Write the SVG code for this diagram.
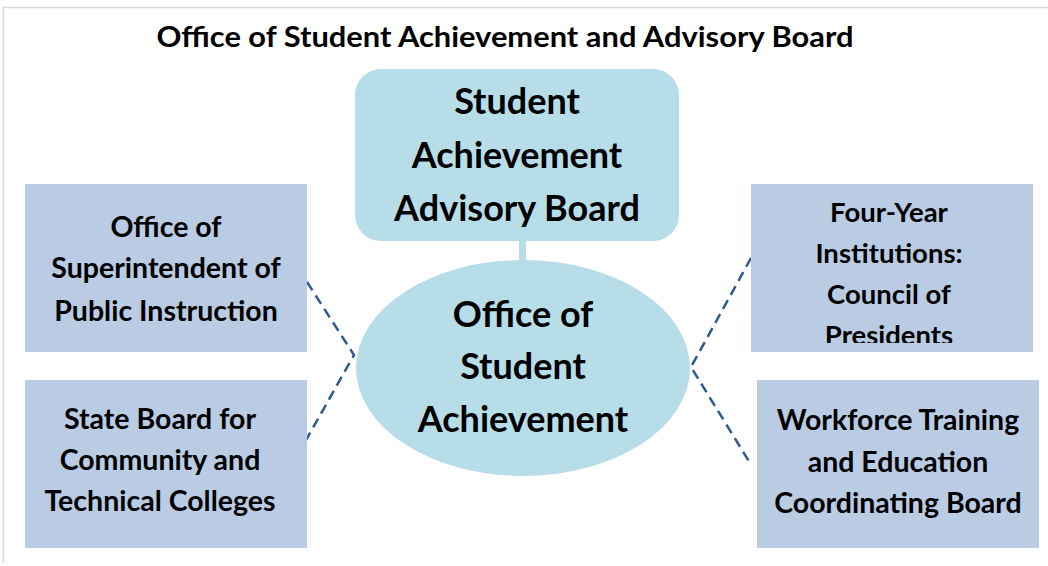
<svg xmlns="http://www.w3.org/2000/svg" width="1048" height="566" viewBox="0 0 1048 566">
<defs>
<style>
.t{font-family:Lato,"Noto Sans","Liberation Sans",sans-serif;font-weight:bold;fill:#000;text-anchor:middle}
.b{fill:#b9cce4}
.lb{fill:#b7dde8}
.dash{fill:none;stroke:#2e5a8f;stroke-width:2.5;stroke-dasharray:10,6}
</style>
<clipPath id="c3"><rect x="751" y="184" width="282" height="159"/></clipPath>
</defs>
<rect x="0" y="0" width="1048" height="566" fill="#fff"/>
<line x1="3.5" y1="7" x2="3.5" y2="563" stroke="#d9d9d9" stroke-width="1.5"/>
<line x1="3" y1="7.5" x2="1048" y2="7.5" stroke="#d9d9d9" stroke-width="1.5"/>
<text class="t" x="505" y="47" font-size="28" textLength="697" lengthAdjust="spacingAndGlyphs">Office of Student Achievement and Advisory Board</text>
<g id="connectors">
<rect x="519" y="240" width="7" height="22" class="lb"/>
<polyline class="dash" points="307,282 354,355 301,449"/>
<polyline class="dash" points="751,258 691,367 750,463"/>
</g>
<g id="advisory-board">
<rect x="355" y="69" width="324" height="172" rx="26" class="lb"/>
<text class="t" font-size="36" x="517" y="114">Student</text>
<text class="t" font-size="36" x="517" y="168">Achievement</text>
<text class="t" font-size="36" x="517" y="221">Advisory Board</text>
</g>
<g id="office">
<ellipse cx="523" cy="368" rx="167" ry="108" class="lb"/>
<text class="t" font-size="36" x="523" y="327">Office of</text>
<text class="t" font-size="36" x="523" y="379">Student</text>
<text class="t" font-size="36" x="523" y="432">Achievement</text>
</g>
<g id="ospi">
<rect x="25" y="184" width="282" height="168" class="b"/>
<text class="t" font-size="28.5" x="166" y="237">Office of</text>
<text class="t" font-size="28.5" x="166" y="278">Superintendent of</text>
<text class="t" font-size="28.5" x="166" y="321">Public Instruction</text>
</g>
<g id="sbctc">
<rect x="25" y="380" width="282" height="168" class="b"/>
<text class="t" font-size="28.5" x="160" y="429">State Board for</text>
<text class="t" font-size="28.5" x="160" y="470">Community and</text>
<text class="t" font-size="28.5" x="160" y="511">Technical Colleges</text>
</g>
<g id="four-year">
<rect x="751" y="184" width="282" height="168" class="b"/>
<g clip-path="url(#c3)">
<text class="t" font-size="27.5" x="889" y="222">Four-Year</text>
<text class="t" font-size="27.5" x="889" y="263">Institutions:</text>
<text class="t" font-size="27.5" x="889" y="304">Council of</text>
<text class="t" font-size="27.5" x="889" y="345">Presidents</text>
</g>
</g>
<g id="wtecb">
<rect x="757" y="380" width="282" height="168" class="b"/>
<text class="t" font-size="28.5" x="898" y="430">Workforce Training</text>
<text class="t" font-size="28.5" x="898" y="472">and Education</text>
<text class="t" font-size="28.5" x="898" y="513">Coordinating Board</text>
</g>
</svg>
